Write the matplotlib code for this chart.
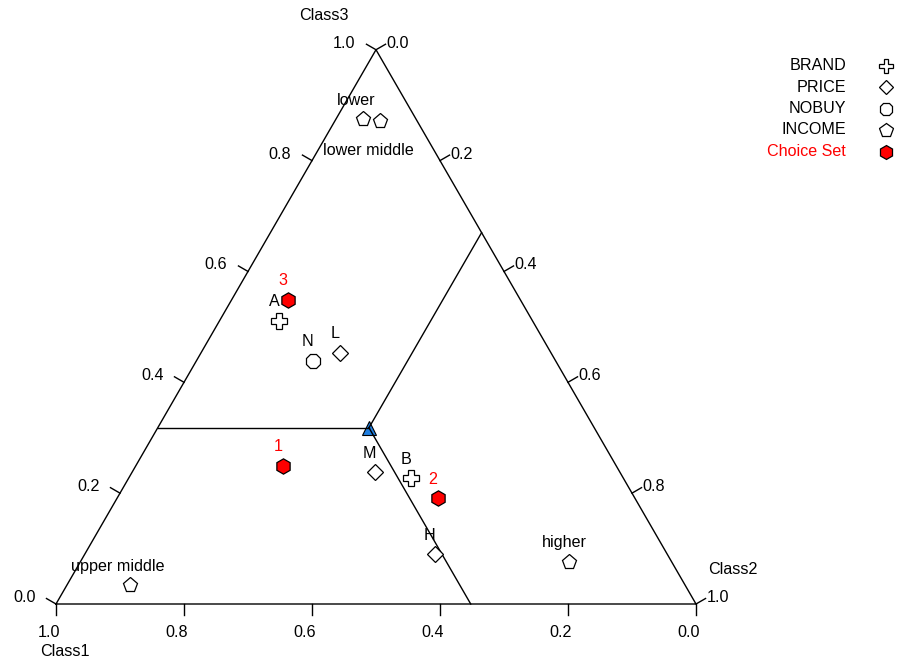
import numpy as np
import matplotlib.pyplot as plt

plt.rcParams['font.family'] = ['Liberation Sans', 'DejaVu Sans']
plt.rcParams['font.size'] = 11.6

# ternary values: (Class1, Class2, Class3)
income_labels = ['lower', 'lower middle', 'upper middle', 'higher']
income_c1 = [0.083, 0.058, 0.867, 0.160]
income_c2 = [0.042, 0.070, 0.099, 0.764]
income_c3 = [0.875, 0.872, 0.034, 0.076]

brand_labels = ['A', 'B']
brand_c1 = [0.396, 0.332]
brand_c2 = [0.093, 0.441]
brand_c3 = [0.511, 0.227]

price_labels = ['L', 'M', 'H']
price_c1 = [0.330, 0.383, 0.363]
price_c2 = [0.217, 0.379, 0.547]
price_c3 = [0.453, 0.238, 0.090]

nobuy_labels = ['N']
nobuy_c1 = [0.379]
nobuy_c2 = [0.182]
nobuy_c3 = [0.439]

choice_labels = ['3', '1', '2']
choice_c1 = [0.363, 0.521, 0.308]
choice_c2 = [0.088, 0.230, 0.501]
choice_c3 = [0.549, 0.249, 0.191]

# class sizes (centre point)
center_c = [0.352, 0.330, 0.318]

tick_values = [0.0, 0.2, 0.4, 0.6, 0.8, 1.0]

H = np.sqrt(3) / 2


def tern(c1, c2, c3):
    c1, c2, c3 = np.asarray(c1, float), np.asarray(c2, float), np.asarray(c3, float)
    s = c1 + c2 + c3
    c2, c3 = c2 / s, c3 / s
    return c2 + c3 / 2, c3 * H


fig = plt.figure(figsize=(9.03, 6.65), dpi=100)
ax = fig.add_axes([0, 0, 1, 1])
ax.set_xlim(-56 / 640, (903 - 56) / 640)
ax.set_ylim(-(665 - 604) / 640, 604 / 640)
ax.axis('off')

# triangle frame
fx, fy = tern([1, 0, 0, 1], [0, 1, 0, 0], [0, 0, 1, 0])
ax.plot(fx, fy, color='black', lw=1.0, zorder=2)

# ticks and tick labels
tl = 11 / 640
px = 1 / 640
for t in tick_values:
    # bottom: Class1
    x0, y0 = tern(t, 1 - t, 0)
    ax.plot([x0, x0], [y0, y0 - tl], color='black', lw=1.0)
    ax.text(x0 - 7 * px, y0 - tl - 10 * px, f"{t:.1f}", ha='center', va='top')
    # left: Class3
    x0, y0 = tern(1 - t, 0, t)
    x1, y1 = x0 - tl * H, y0 + tl * 0.5
    ax.plot([x0, x1], [y0, y1], color='black', lw=1.0)
    ax.text(x1 - 11 * px, y1 + 1 * px, f"{t:.1f}", ha='right', va='center')
    # right: Class2
    x0, y0 = tern(0, t, 1 - t)
    x1, y1 = x0 + tl * H, y0 + tl * 0.5
    ax.plot([x0, x1], [y0, y1], color='black', lw=1.0)
    ax.text(x1 + 1 * px, y1 + 1 * px, f"{t:.1f}", ha='left', va='center')

# axis titles
ax.annotate('Class1', tern(1, 0, 0), xytext=(-16, -47), textcoords='offset pixels',
            ha='left', va='center')
ax.annotate('Class2', tern(0, 1, 0), xytext=(12, 34), textcoords='offset pixels',
            ha='left', va='center')
ax.annotate('Class3', tern(0, 0, 1), xytext=(-77, 34), textcoords='offset pixels',
            ha='left', va='center')

# lines from the centre point to the edges
c1, c2, c3 = center_c
cx, cy = tern(c1, c2, c3)
for p in [(1 - c3, 0, c3), (0, c2, 1 - c2), (c1, 1 - c1, 0)]:
    ex, ey = tern(*p)
    ax.plot([cx, ex], [cy, ey], color='black', lw=1.0, zorder=4)
ax.plot(cx, cy, marker='^', ms=10, mfc='#1f7ee0', mec='black', mew=0.8, ls='none', zorder=3)

# points
groups = [
    (brand_c1, brand_c2, brand_c3, brand_labels, dict(marker='P', ms=11, mfc='white'), 'black'),
    (price_c1, price_c2, price_c3, price_labels, dict(marker='D', ms=8, mfc='white'), 'black'),
    (nobuy_c1, nobuy_c2, nobuy_c3, nobuy_labels, dict(marker='8', ms=11, mfc='white'), 'black'),
    (income_c1, income_c2, income_c3, income_labels, dict(marker='p', ms=11, mfc='white'), 'black'),
    (choice_c1, choice_c2, choice_c3, choice_labels, dict(marker='h', ms=11, mfc='red'), 'red'),
]
label_offset = {'upper middle': (-12, 19), 'lower middle': (-11, -30), 'lower': (-7, 19)}
for g1, g2, g3, labs, style, tcol in groups:
    xs, ys = tern(g1, g2, g3)
    ax.plot(xs, ys, ls='none', mec='black', mew=0.9, zorder=5, **style)
    for x, y, lab in zip(xs, ys, labs):
        off = label_offset.get(lab, (-5, 19))
        ax.annotate(lab, (x, y), xytext=off, textcoords='offset pixels',
                    ha='center', va='center', color=tcol, zorder=6)

# legend
leg_names = ['BRAND', 'PRICE', 'NOBUY', 'INCOME', 'Choice Set']
leg_styles = [groups[i][4] for i in range(5)]
leg_colors = ['black', 'black', 'black', 'black', 'red']
for i, (name, st, col) in enumerate(zip(leg_names, leg_styles, leg_colors)):
    yy = 1 - (65.5 + i * 21.5) / 665
    st = dict(st)
    st['ms'] = st['ms'] - 1
    ax.plot(886 / 903, yy, transform=ax.transAxes, ls='none', mec='black', mew=0.9,
            clip_on=False, **st)
    ax.text(846 / 903, yy, name, transform=ax.transAxes, ha='right', va='center', color=col)

fig.savefig('out.png', dpi=100)
